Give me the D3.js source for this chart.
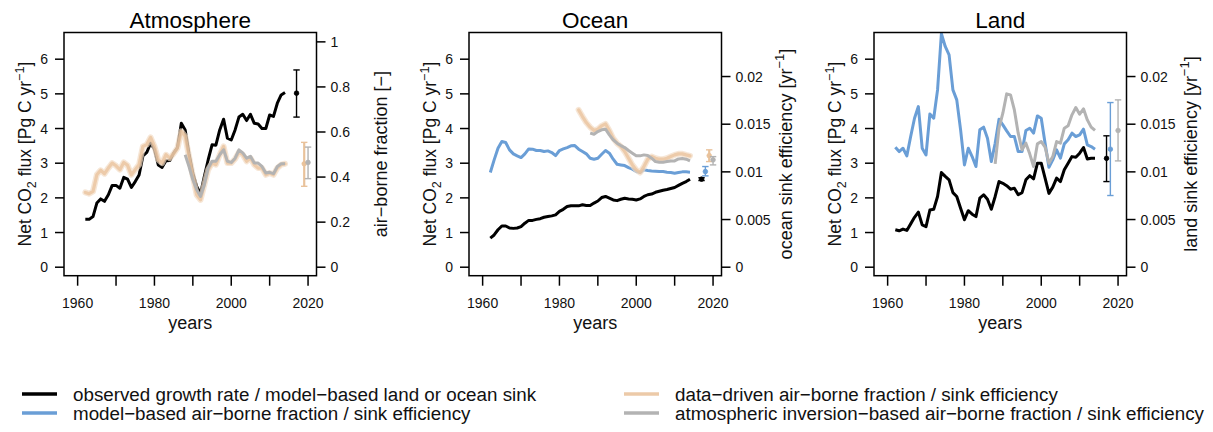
<!DOCTYPE html>
<html>
<head>
<meta charset="utf-8">
<script src="https://cdn.jsdelivr.net/npm/d3@7"></script>
<style>
  html, body { margin: 0; padding: 0; background: #fff; }
  svg { display: block; font-family: "Liberation Sans", Arial, Helvetica, sans-serif; }
</style>
</head>
<body>
<svg id="chart" width="1213" height="432"></svg>
<script>
// ---- Years -------------------------------------------------------------
const years = [1962,1963,1964,1965,1966,1967,1968,1969,1970,1971,
  1972,1973,1974,1975,1976,1977,1978,1979,1980,1981,
  1982,1983,1984,1985,1986,1987,1988,1989,1990,1991,
  1992,1993,1994,1995,1996,1997,1998,1999,2000,2001,
  2002,2003,2004,2005,2006,2007,2008,2009,2010,2011,
  2012,2013,2014];
const inversionYears = [1988,1989,1990,1991,1992,1993,1994,1995,1996,1997,
  1998,1999,2000,2001,2002,2003,2004,2005,2006,2007,
  2008,2009,2010,2011,2012,2013,2014];
const oceanDataYears = [1985,1986,1987,1988,1989,1990,1991,1992,1993,1994,
  1995,1996,1997,1998,1999,2000,2001,2002,2003,2004,
  2005,2006,2007,2008,2009,2010,2011,2012,2013,2014];

// ---- Atmosphere: growth rate [Pg C/yr] and air-borne fraction [-] -------
const atmGrowthRate = [1.38,1.38,1.46,1.85,1.97,1.90,2.09,2.36,2.36,2.28,
  2.59,2.54,2.30,2.47,2.66,3.21,3.31,3.58,3.40,2.95,
  2.88,3.07,3.08,3.29,3.45,4.15,3.96,3.27,2.71,2.33,
  2.12,2.62,3.10,3.53,3.52,3.96,4.27,3.72,3.67,3.96,
  4.33,4.41,4.23,4.41,4.15,4.13,4.00,4.00,4.39,4.35,
  4.73,4.97,5.04];
const atmDataDrivenAF = [0.332,0.326,0.336,0.410,0.430,0.415,0.440,0.462,0.450,0.433,
  0.465,0.452,0.410,0.433,0.455,0.536,0.544,0.576,0.536,0.477,
  0.462,0.499,0.484,0.504,0.529,0.603,0.581,0.492,0.403,0.321,
  0.299,0.366,0.433,0.462,0.455,0.499,0.536,0.462,0.462,0.480,
  0.510,0.499,0.470,0.484,0.455,0.440,0.440,0.410,0.418,0.410,
  0.440,0.455,0.459];
const atmInversionAF = [0.499,0.447,0.388,0.344,0.314,0.366,0.440,0.470,0.470,0.499,
  0.521,0.470,0.465,0.484,0.521,0.507,0.484,0.492,0.462,0.462,
  0.447,0.418,0.421,0.415,0.447,0.459,0.459];

// ---- Ocean: model sink [Pg C/yr] and sink efficiency [1/yr] -------------
const oceanSink = [0.84,0.93,1.08,1.19,1.19,1.13,1.12,1.13,1.17,1.27,
  1.35,1.35,1.38,1.40,1.44,1.46,1.48,1.51,1.61,1.67,
  1.75,1.77,1.77,1.77,1.80,1.78,1.78,1.85,1.91,2.01,
  2.04,1.99,1.94,1.92,1.96,1.99,1.97,1.96,1.94,1.97,
  2.04,2.09,2.11,2.16,2.19,2.22,2.24,2.27,2.30,2.36,
  2.42,2.47,2.54];
const oceanModelEff = [0.00993,0.01126,0.01248,0.01318,0.01308,0.01231,0.01189,0.01168,0.01150,0.01189,
  0.01241,0.01238,0.01224,0.01224,0.01213,0.01220,0.01203,0.01171,0.01224,0.01241,
  0.01255,0.01273,0.01276,0.01238,0.01213,0.01189,0.01143,0.01133,0.01143,0.01185,
  0.01224,0.01196,0.01133,0.01080,0.01073,0.01066,0.01045,0.01028,0.01003,0.00993,
  0.01021,0.01014,0.01010,0.01007,0.01003,0.01003,0.00997,0.00993,0.00986,0.00993,
  0.01000,0.01000,0.00997];
const oceanDataDrivenEff = [0.01650,0.01580,0.01517,0.01469,0.01434,0.01448,0.01483,0.01503,0.01434,0.01353,
  0.01301,0.01266,0.01213,0.01143,0.01073,0.01021,0.00993,0.01056,0.01133,0.01161,
  0.01143,0.01133,0.01133,0.01143,0.01161,0.01178,0.01189,0.01189,0.01178,0.01168];
const oceanInversionEff = [0.01406,0.01395,0.01423,0.01441,0.01448,0.01388,0.01336,0.01301,0.01276,0.01255,
  0.01224,0.01196,0.01168,0.01168,0.01178,0.01171,0.01143,0.01108,0.01101,0.01101,
  0.01108,0.01115,0.01115,0.01136,0.01140,0.01133,0.01115];

// ---- Land: model sink [Pg C/yr] and sink efficiency [1/yr] --------------
const landSink = [1.08,1.05,1.10,1.06,1.25,1.44,1.59,1.22,1.17,1.65,
  1.67,2.04,2.73,2.62,2.52,2.15,2.04,1.70,1.37,1.63,
  1.53,1.46,1.99,2.09,1.96,1.67,2.04,2.47,2.42,2.35,
  2.25,2.28,2.09,2.15,2.52,2.64,2.55,3.00,3.00,2.57,
  2.13,2.31,2.57,2.47,2.81,3.00,3.19,3.17,3.29,3.45,
  3.12,3.14,3.14];
const landModelEff = [0.01259,0.01213,0.01248,0.01168,0.01371,0.01563,0.01685,0.01248,0.01178,0.01608,
  0.01563,0.01860,0.02450,0.02315,0.02227,0.01860,0.01755,0.01441,0.01073,0.01248,
  0.01161,0.01056,0.01441,0.01469,0.01353,0.01108,0.01300,0.01552,0.01493,0.01430,
  0.01371,0.01371,0.01213,0.01213,0.01434,0.01458,0.01406,0.01587,0.01563,0.01301,
  0.01049,0.01126,0.01231,0.01143,0.01294,0.01336,0.01406,0.01371,0.01388,0.01448,
  0.01283,0.01266,0.01238];
const landInversionEff = [0.01084,0.01458,0.01615,0.01818,0.01808,0.01650,0.01406,0.01231,0.01301,0.01189,
  0.01056,0.01294,0.01318,0.01259,0.01091,0.01161,0.01318,0.01301,0.01458,0.01483,
  0.01598,0.01675,0.01605,0.01661,0.01545,0.01469,0.01434];

// ---- Summary points with uncertainty ranges: [year, mid, low, high] ------
const atmSummary = {
  observed:   [2017, 5.02, 4.33, 5.69],
  dataDriven: [2019, 0.459, 0.359, 0.554],
  inversion:  [2020, 0.465, 0.393, 0.533]
};
const oceanSummary = {
  observed:   [2017, 2.54, 2.50, 2.58],
  model:      [2018, 0.01003, 0.00958, 0.01056],
  dataDriven: [2019, 0.01170, 0.01108, 0.01231],
  inversion:  [2020, 0.01126, 0.01073, 0.01160]
};
const landSummary = {
  observed:   [2017, 3.14, 2.47, 3.79],
  model:      [2018, 0.01238, 0.00752, 0.01727],
  inversion:  [2020, 0.01434, 0.01115, 0.01755]
};

// ---- Axis ticks ----------------------------------------------------------
const xTicks = [1960, 1970, 1980, 1990, 2000, 2010, 2020];
const xTickLabels = [1960, 1980, 2000, 2020];
const fluxTicks = [0, 1, 2, 3, 4, 5, 6];
const fractionTicks = [0, 0.2, 0.4, 0.6, 0.8, 1];
const efficiencyTicks = [0, 0.005, 0.01, 0.015, 0.02];

// ---- Styling -------------------------------------------------------------
const colors = {
  observed: "#000000",
  model: "#6a9ed6",
  dataDriven: "#e9c29b",
  inversion: "#b3b3b3"
};

const svg = d3.select("#chart");
const boxW = 252.5, boxTop = 32.5, boxBottom = 275.7;
const xDomain = [1956.45, 2022.2];
const fluxDomain = [-0.245, 6.77];

function zip(xs, ys) { return xs.map((x, i) => [x, ys[i]]); }

const panels = [
  {
    title: "Atmosphere", left: 64,
    rightPerFlux: 1 / 6.5,
    rightTicks: fractionTicks, rightFormat: d => String(d),
    rightLabel: [{ t: "air\u2212borne fraction [\u2212]" }],
    series: [
      { data: zip(years, atmGrowthRate), axis: "L", color: colors.observed, key: "observed" },
      { data: zip(years, atmDataDrivenAF), axis: "R", color: colors.dataDriven, key: "dataDriven" },
      { data: zip(inversionYears, atmInversionAF), axis: "R", color: colors.inversion, key: "inversion" }
    ],
    summary: [
      { v: atmSummary.observed, axis: "L", color: colors.observed },
      { v: atmSummary.dataDriven, axis: "R", color: colors.dataDriven },
      { v: atmSummary.inversion, axis: "R", color: colors.inversion }
    ]
  },
  {
    title: "Ocean", left: 469,
    rightPerFlux: 0.02 / 5.5,
    rightTicks: efficiencyTicks, rightFormat: d => String(d),
    rightLabel: [{ t: "ocean sink efficiency [yr" }, { t: "\u22121", sup: true }, { t: "]" }],
    series: [
      { data: zip(years, oceanSink), axis: "L", color: colors.observed, key: "observed" },
      { data: zip(years, oceanModelEff), axis: "R", color: colors.model, key: "model" },
      { data: zip(oceanDataYears, oceanDataDrivenEff), axis: "R", color: colors.dataDriven, key: "dataDriven" },
      { data: zip(inversionYears, oceanInversionEff), axis: "R", color: colors.inversion, key: "inversion" }
    ],
    summary: [
      { v: oceanSummary.observed, axis: "L", color: colors.observed },
      { v: oceanSummary.model, axis: "R", color: colors.model },
      { v: oceanSummary.dataDriven, axis: "R", color: colors.dataDriven },
      { v: oceanSummary.inversion, axis: "R", color: colors.inversion }
    ]
  },
  {
    title: "Land", left: 874,
    rightPerFlux: 0.02 / 5.5,
    rightTicks: efficiencyTicks, rightFormat: d => String(d),
    rightLabel: [{ t: "land sink efficiency [yr" }, { t: "\u22121", sup: true }, { t: "]" }],
    series: [
      { data: zip(years, landSink), axis: "L", color: colors.observed, key: "observed" },
      { data: zip(years, landModelEff), axis: "R", color: colors.model, key: "model" },
      { data: zip(inversionYears, landInversionEff), axis: "R", color: colors.inversion, key: "inversion" }
    ],
    summary: [
      { v: landSummary.observed, axis: "L", color: colors.observed },
      { v: landSummary.model, axis: "R", color: colors.model },
      { v: landSummary.inversion, axis: "R", color: colors.inversion }
    ]
  }
];

const leftLabel = [{ t: "Net CO" }, { t: "2", sub: true }, { t: " flux [Pg C yr" }, { t: "\u22121", sup: true }, { t: "]" }];

// Writes text parts into a <text>, lowering/raising sub- and superscripts
// and returning to the baseline for the part that follows.
function richText(sel, parts, size) {
  let shift = 0;
  parts.forEach(p => {
    const ts = sel.append("tspan").text(p.t);
    let target = 0;
    if (p.sub) target = size * 0.28;
    if (p.sup) target = -size * 0.42;
    if (p.sub || p.sup) ts.attr("font-size", size * 0.72);
    if (target !== shift) ts.attr("dy", target - shift);
    shift = target;
  });
}

panels.forEach((p, pi) => {
  const L = p.left, R = p.left + boxW;
  const x = d3.scaleLinear().domain(xDomain).range([L, R]);
  const yL = d3.scaleLinear().domain(fluxDomain).range([boxBottom, boxTop]);
  const yR = d3.scaleLinear()
    .domain(fluxDomain.map(v => v * p.rightPerFlux))
    .range([boxBottom, boxTop]);
  const g = svg.append("g");

  const clipId = "clip" + pi;
  svg.append("clipPath").attr("id", clipId)
    .append("rect").attr("x", L).attr("y", boxTop).attr("width", boxW).attr("height", boxBottom - boxTop);

  // series lines
  const lines = g.append("g").attr("clip-path", `url(#${clipId})`);
  p.series.forEach(s => {
    const y = s.axis === "L" ? yL : yR;
    const line = d3.line().x(d => x(d[0])).y(d => y(d[1]));
    if (s.key === "dataDriven") {
      // semi-transparent ensemble band
      lines.append("path").datum(s.data).attr("d", line)
        .attr("fill", "none").attr("stroke", "#f2dcc4").attr("stroke-width", 6)
        .attr("stroke-linejoin", "round").attr("stroke-linecap", "round").attr("opacity", 0.7);
      lines.append("path").datum(s.data).attr("d", line)
        .attr("fill", "none").attr("stroke", s.color).attr("stroke-width", 3.2)
        .attr("stroke-linejoin", "round").attr("stroke-linecap", "round").attr("opacity", 0.75);
    } else {
      lines.append("path").datum(s.data).attr("d", line)
        .attr("fill", "none").attr("stroke", s.color).attr("stroke-width", 3)
        .attr("stroke-linejoin", "round").attr("stroke-linecap", "butt");
    }
  });

  // summary points with error bars
  p.summary.forEach(s => {
    const y = s.axis === "L" ? yL : yR;
    const [yr, mid, lo, hi] = s.v;
    const cx = x(yr);
    const eg = g.append("g").attr("stroke", s.color).attr("fill", s.color);
    const w = s.color === colors.dataDriven ? 2.2 : 1.4;
    eg.append("line").attr("x1", cx).attr("x2", cx).attr("y1", y(lo)).attr("y2", y(hi)).attr("stroke-width", w);
    [lo, hi].forEach(v => eg.append("line").attr("x1", cx - 3.2).attr("x2", cx + 3.2)
      .attr("y1", y(v)).attr("y2", y(v)).attr("stroke-width", 1.4));
    eg.append("circle").attr("cx", cx).attr("cy", y(mid)).attr("r", 2.3).attr("stroke-width", 0.8);
  });

  // box
  g.append("rect").attr("x", L).attr("y", boxTop).attr("width", boxW).attr("height", boxBottom - boxTop)
    .attr("fill", "none").attr("stroke", "#000").attr("stroke-width", 1.5);

  // x axis ticks and labels
  const xa = g.append("g");
  xTicks.forEach(t => {
    xa.append("line").attr("x1", x(t)).attr("x2", x(t)).attr("y1", boxBottom).attr("y2", boxBottom + 10)
      .attr("stroke", "#000").attr("stroke-width", 1.5);
  });
  xTickLabels.forEach(t => {
    xa.append("text").attr("x", x(t)).attr("y", 308).attr("text-anchor", "middle")
      .attr("font-size", 14).attr("fill", "#111").text(t);
  });
  g.append("text").attr("x", (L + R) / 2).attr("y", 329).attr("text-anchor", "middle")
    .attr("font-size", 18).attr("fill", "#111").text("years");

  // left axis
  fluxTicks.forEach(t => {
    g.append("line").attr("x1", L - 9).attr("x2", L).attr("y1", yL(t)).attr("y2", yL(t))
      .attr("stroke", "#000").attr("stroke-width", 1.5);
    g.append("text").attr("x", L - 16).attr("y", yL(t)).attr("dy", "0.36em").attr("text-anchor", "end")
      .attr("font-size", 14).attr("fill", "#111").text(t);
  });
  const ll = g.append("text").attr("transform", `translate(${L - 33},${(boxTop + boxBottom) / 2}) rotate(-90)`)
    .attr("text-anchor", "middle").attr("font-size", 17.5).attr("fill", "#111");
  richText(ll, leftLabel, 17.5);

  // right axis
  p.rightTicks.forEach(t => {
    g.append("line").attr("x1", R).attr("x2", R + 9).attr("y1", yR(t)).attr("y2", yR(t))
      .attr("stroke", "#000").attr("stroke-width", 1.5);
    g.append("text").attr("x", R + 14).attr("y", yR(t)).attr("dy", "0.36em").attr("text-anchor", "start")
      .attr("font-size", 14).attr("fill", "#111").text(p.rightFormat(t));
  });
  const rl = g.append("text").attr("transform", `translate(${R + 70},${(boxTop + boxBottom) / 2}) rotate(-90)`)
    .attr("text-anchor", "middle").attr("font-size", 18).attr("fill", "#111");
  richText(rl, p.rightLabel, 18);

  // title
  g.append("text").attr("x", (L + R) / 2).attr("y", 28).attr("text-anchor", "middle")
    .attr("font-size", 22.5).attr("fill", "#000").text(p.title);
});

// ---- Legend --------------------------------------------------------------
const legendItems = [
  { label: "observed growth rate / model\u2212based land or ocean sink", color: colors.observed, col: 0, row: 0 },
  { label: "model\u2212based air\u2212borne fraction / sink efficiency", color: colors.model, col: 0, row: 1 },
  { label: "data\u2212driven air\u2212borne fraction / sink efficiency", color: "#eccaa8", col: 1, row: 0 },
  { label: "atmospheric inversion\u2212based air\u2212borne fraction / sink efficiency", color: colors.inversion, col: 1, row: 1 }
];
const legendCols = [22, 624];
const legendRows = [394, 413];
const lg = svg.append("g");
legendItems.forEach(it => {
  const x0 = legendCols[it.col], y0 = legendRows[it.row];
  lg.append("line").attr("x1", x0).attr("x2", x0 + 35).attr("y1", y0).attr("y2", y0)
    .attr("stroke", it.color).attr("stroke-width", 3.5);
  lg.append("text").attr("x", x0 + 51).attr("y", y0).attr("dy", "0.35em")
    .attr("font-size", 18.8).attr("fill", "#111").text(it.label);
});
</script>
</body>
</html>
